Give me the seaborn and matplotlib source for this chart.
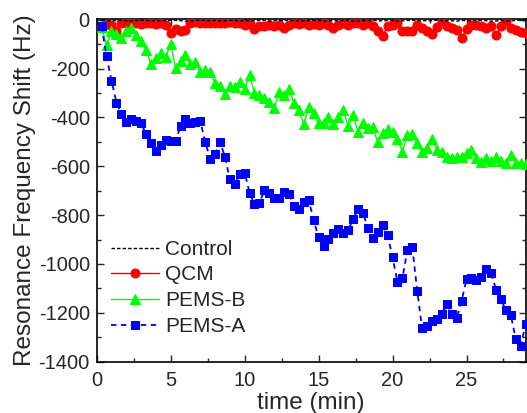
import numpy as np
import pandas as pd
import matplotlib
matplotlib.use("Agg")
import matplotlib.pyplot as plt
import seaborn as sns
from matplotlib.ticker import MultipleLocator

# sampling: one reading every 20 s (1/3 min)
time_min = np.arange(1, 88) / 3.0

control = [-2, -3, -4, -3, -2, -4, -5, -3, -2, -3,
           -4, -5, -4, -3, -2, -3, -4, -6, -5, -3,
           -2, -3, -4, -3, -5, -4, -3, -2, -4, -5,
           -3, -4, -2, -3, -5, -4, -3, -2, -3, -4,
           -6, -4, -3, -2, -3, -5, -4, -3, -4, -2,
           -3, -5, -6, -4, -3, -2, -4, -5, -3, -4,
           -6, -5, -3, -2, -4, -5, -3, -4, -2, -3,
           -5, -4, -6, -3, -4, -5, -3, -2, -4, -6,
           -5, -3, -4, -5, -3, -2, -4]

qcm = [-25, -18, -22, -45, -15, -12, -10, -15, -18, -15,
       -12, -18, -15, -20, -55, -38, -48, -44, -15, -10,
       -12, -15, -12, -15, -12, -15, -10, -12, -15, -20,
       -18, -38, -25, -25, -20, -27, -20, -34, -20, -15,
       -18, -15, -20, -18, -20, -15, -20, -34, -20, -15,
       -20, -12, -15, -20, -15, -25, -48, -66, -25, -20,
       -14, -48, -48, -48, -20, -34, -48, -60, -30, -7,
       -27, -32, -41, -75, -38, -20, -20, -27, -34, -27,
       -62, -25, -7, -32, -44, -50, -55]

pems_b = [-30, -105, -48, -60, -75, -48, -34, -62, -86, -123,
          -182, -157, -137, -154, -100, -198, -168, -143, -182, -175,
          -215, -205, -215, -260, -273, -303, -273, -277, -253, -284,
          -226, -301, -308, -321, -338, -362, -296, -310, -283, -342,
          -369, -428, -359, -383, -424, -424, -400, -428, -400, -369,
          -437, -392, -458, -424, -444, -441, -501, -465, -448, -458,
          -489, -540, -472, -467, -506, -540, -526, -489, -533, -540,
          -560, -567, -563, -560, -547, -533, -567, -581, -567, -577,
          -563, -577, -588, -553, -588, -585, -590]

pems_a = [-27, -150, -249, -339, -385, -417, -407, -413, -424, -467,
          -506, -537, -512, -492, -496, -495, -437, -406, -424, -417,
          -414, -499, -570, -551, -501, -560, -653, -674, -633, -626,
          -708, -756, -752, -697, -708, -728, -728, -704, -715, -763,
          -776, -745, -738, -820, -891, -925, -899, -872, -857, -875,
          -861, -816, -775, -790, -854, -892, -868, -841, -881, -973,
          -1073, -1059, -943, -929, -1110, -1264, -1255, -1233, -1227, -1205,
          -1164, -1205, -1223, -1151, -1063, -1059, -1066, -1052, -1022, -1036,
          -1107, -1145, -1189, -1210, -1309, -1337, -1244]

x_ticks = [0, 5, 10, 15, 20, 25]
y_ticks = [-1400, -1200, -1000, -800, -600, -400, -200, 0]

sns.set_style("ticks")
plt.rcParams["font.family"] = ["Liberation Sans", "DejaVu Sans"]
plt.rcParams["axes.unicode_minus"] = False

df = pd.DataFrame({"time": time_min, "Control": control, "QCM": qcm,
                   "PEMS-B": pems_b, "PEMS-A": pems_a})

fig = plt.figure(figsize=(5.27, 4.13), dpi=100)
ax = fig.add_axes([0.1835, 0.1242, 0.814, 0.831])

sns.lineplot(data=df, x="time", y="QCM", ax=ax, color="#ff0000", marker="o",
             markersize=6.5, markeredgecolor="#ff0000", linewidth=1.0,
             label="QCM", zorder=3)
sns.lineplot(data=df, x="time", y="PEMS-B", ax=ax, color="#00ff00", marker="^",
             markersize=7.5, markeredgecolor="#00ff00", linewidth=1.0,
             label="PEMS-B", zorder=3)
sns.lineplot(data=df, x="time", y="PEMS-A", ax=ax, color="#0000ff", marker="s",
             markersize=6, markeredgecolor="#0000ff", linewidth=1.3,
             linestyle=(0, (3, 2.5)), label="PEMS-A", zorder=4)
sns.lineplot(data=df, x="time", y="Control", ax=ax, color="black",
             linewidth=1.0, linestyle=(0, (2.5, 1.5)), label="Control", zorder=5)

ax.set_xlim(0, 29)
ax.set_ylim(-1400, 5)
ax.set_xticks(x_ticks)
ax.set_yticks(y_ticks)
ax.xaxis.set_minor_locator(MultipleLocator(2.5))
ax.yaxis.set_minor_locator(MultipleLocator(100))
ax.tick_params(which="both", direction="in", top=True, right=True, width=1.0)
ax.tick_params(which="major", length=5, labelsize=14.5)
ax.tick_params(which="minor", length=3)
ax.tick_params(axis="x", pad=7)
ax.tick_params(axis="y", pad=5)
for s in ax.spines.values():
    s.set_linewidth(1.2)
    s.set_color("black")

ax.set_xlabel("time (min)", fontsize=17.5, labelpad=1)
ax.set_ylabel("Resonance Frequency Shift (Hz)", fontsize=17.5, labelpad=2)

handles, labels = ax.get_legend_handles_labels()
order = ["Control", "QCM", "PEMS-B", "PEMS-A"]
hmap = dict(zip(labels, handles))
ax.legend([hmap[k] for k in order], order, loc="lower left",
          bbox_to_anchor=(0.0, 0.033), frameon=False, fontsize=15,
          handlelength=2.3, handletextpad=0.3, labelspacing=0.32,
          borderaxespad=0.3)

fig.savefig("out.png", dpi=100)
